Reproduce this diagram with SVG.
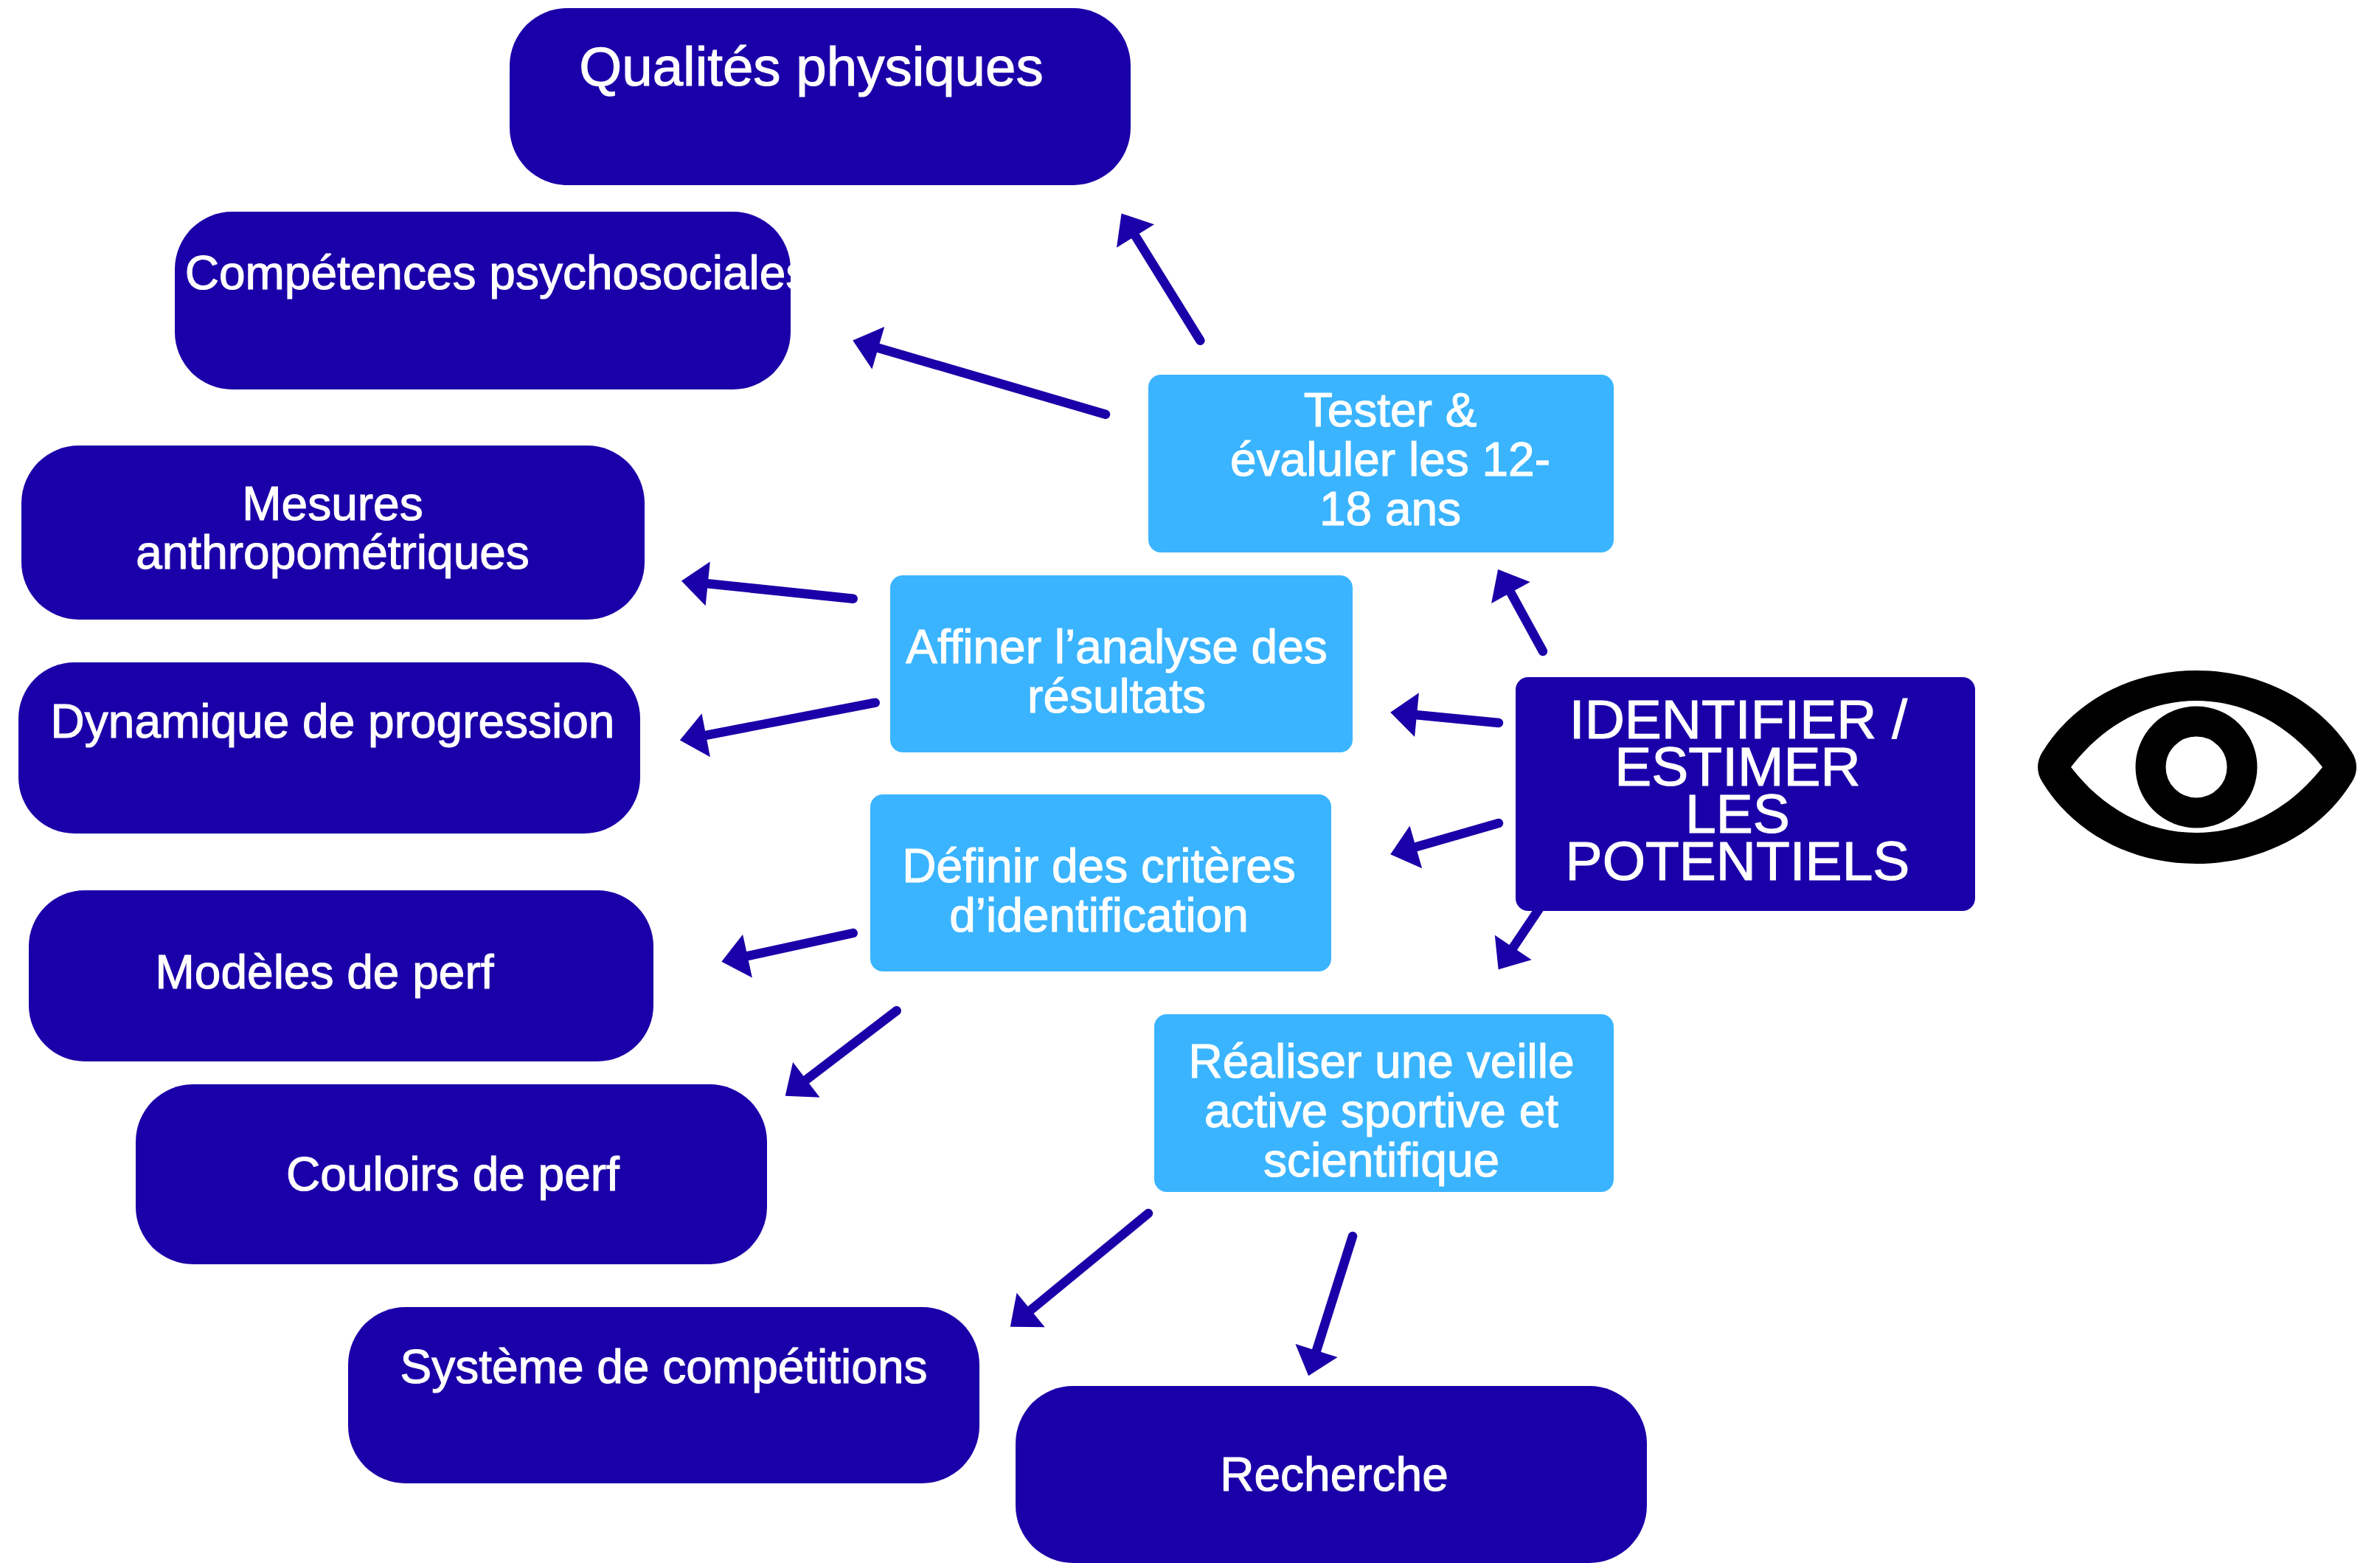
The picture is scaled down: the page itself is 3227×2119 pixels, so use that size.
<svg xmlns="http://www.w3.org/2000/svg" width="3227" height="2119" viewBox="0 0 3227 2119">
<style>
.d{fill:#1a00a8}
.l{fill:#3ab4ff}
text{font-family:"Liberation Sans",Arial,sans-serif;fill:#fff;stroke:#fff;stroke-width:1.1;text-anchor:middle;font-size:64px}
.b{font-size:75px}
.c line{stroke:#1a00a8;stroke-width:12.5;stroke-linecap:round;marker-end:url(#a)}
</style>
<defs><marker id="a" markerUnits="userSpaceOnUse" markerWidth="40" markerHeight="64" refX="0" refY="30" orient="auto" overflow="visible"><path d="M0 0L36 30L0 60Z" fill="#1a00a8"/></marker></defs>
<rect width="3227" height="2119" fill="#fff"/>
<g class="c" id="connectors">
<line x1="1627.4" y1="461.7" x2="1539.5" y2="320"/>
<line x1="1499" y1="561.7" x2="1190.8" y2="471.7"/>
<line x1="2092" y1="883" x2="2048.4" y2="803.5"/>
<line x1="1156.7" y1="811.7" x2="959.7" y2="791.3"/>
<line x1="1186.7" y1="952.7" x2="957.2" y2="996.8"/>
<line x1="2032" y1="980" x2="1921" y2="969.2"/>
<line x1="2032" y1="1116" x2="1919.8" y2="1148.3"/>
<line x1="2097" y1="1217" x2="2051.7" y2="1284.5"/>
<line x1="1156.7" y1="1265" x2="1013.5" y2="1296.2"/>
<line x1="1215.7" y1="1370.3" x2="1093.3" y2="1463.8"/>
<line x1="1557" y1="1645" x2="1397.6" y2="1776"/>
<line x1="1834" y1="1676" x2="1785" y2="1831"/>
</g>
<g id="n1"><rect class="d" x="691" y="11" width="842" height="240" rx="78"/><text x="1100" y="116" style="font-size:74.5px">Qualités physiques</text></g>
<g id="n2"><rect class="d" x="237" y="287" width="835" height="241" rx="78"/><text x="674" y="392">Compétences psychosociales</text></g>
<g id="n3"><rect class="d" x="29" y="604" width="845" height="236" rx="78"/><text x="451" y="705">Mesures</text><text x="451" y="771">anthropométriques</text></g>
<g id="n4"><rect class="d" x="25" y="898" width="843" height="232" rx="76"/><text x="451" y="1000">Dynamique de progression</text></g>
<g id="n5"><rect class="d" x="39" y="1207" width="847" height="232" rx="76"/><text x="440" y="1340">Modèles de perf</text></g>
<g id="n6"><rect class="d" x="184" y="1470" width="856" height="244" rx="78"/><text x="614" y="1614">Couloirs de perf</text></g>
<g id="n7"><rect class="d" x="472" y="1772" width="856" height="239" rx="78"/><text x="900" y="1875">Système de compétitions</text></g>
<g id="n8"><rect class="d" x="1377" y="1879" width="856" height="240" rx="78"/><text x="1809" y="2021">Recherche</text></g>
<g id="n9"><rect class="l" x="1557" y="508" width="631" height="241" rx="17"/><text x="1885" y="578">Tester &amp;</text><text x="1885" y="645">évaluler les 12-</text><text x="1885" y="712">18 ans</text></g>
<g id="n10"><rect class="l" x="1207" y="780" width="627" height="240" rx="17"/><text x="1514" y="899">Affiner l’analyse des</text><text x="1514" y="966">résultats</text></g>
<g id="n11"><rect class="l" x="1180" y="1077" width="625" height="240" rx="17"/><text x="1490" y="1196">Définir des critères</text><text x="1490" y="1263">d’identification</text></g>
<g id="n12"><rect class="l" x="1565" y="1375" width="623" height="241" rx="17"/><text x="1873" y="1461">Réaliser une veille</text><text x="1873" y="1528">active sportive et</text><text x="1873" y="1595">scientifique</text></g>
<g id="n13"><rect class="d" x="2055" y="918" width="623" height="317" rx="17"/><text class="b" x="2357" y="1001">IDENTIFIER /</text><text class="b" x="2356" y="1065">ESTIMER</text><text class="b" x="2356" y="1129">LES</text><text class="b" x="2356" y="1193">POTENTIELS</text></g>
<g id="eye"><path fill="#000" fill-rule="evenodd" d="M2769 1020C2812 950 2890 909 2978 909C3066 909 3146 950 3189 1020C3197 1032 3197 1048 3189 1060C3146 1130 3066 1171 2978 1171C2890 1171 2812 1130 2769 1060C2761 1048 2761 1032 2769 1020ZM2808 1040C2850 1095 2910 1129 2978 1129C3046 1129 3106 1095 3149 1040C3106 985 3046 950 2978 950C2910 950 2850 985 2808 1040Z"/><circle cx="2978" cy="1040" r="62" fill="none" stroke="#000" stroke-width="41"/></g>
</svg>
